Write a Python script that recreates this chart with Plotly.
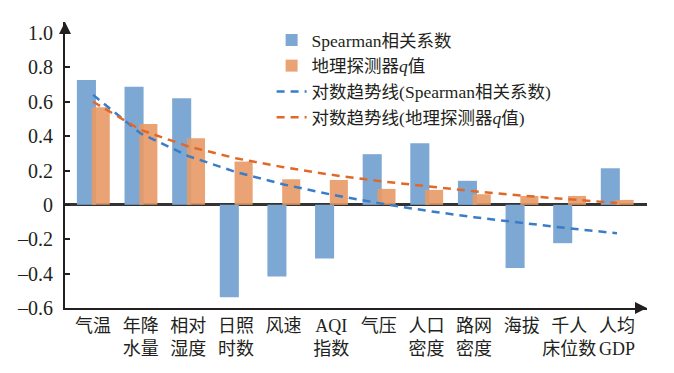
import plotly.graph_objects as go

categories = ["气温", "年降<br>水量", "相对<br>湿度", "日照<br>时数", "风速", "AQI<br>指数",
              "气压", "人口<br>密度", "路网<br>密度", "海拔", "千人<br>床位数", "人均<br>GDP"]
spearman = [0.727, 0.688, 0.620, -0.537, -0.417, -0.312, 0.295, 0.359, 0.140, -0.368, -0.223, 0.213]
q_values = [0.568, 0.471, 0.388, 0.252, 0.149, 0.145, 0.093, 0.087, 0.062, 0.052, 0.052, 0.029]
trend_spearman = [0.640, 0.415, 0.284, 0.191, 0.119, 0.060, 0.010, -0.034, -0.072, -0.106, -0.137, -0.165]
trend_q = [0.600, 0.436, 0.340, 0.271, 0.219, 0.175, 0.139, 0.107, 0.079, 0.054, 0.032, 0.011]
ytick_vals = [1.0, 0.8, 0.6, 0.4, 0.2, 0, -0.2, -0.4, -0.6]
ytick_text = ["1.0", "0.8", "0.6", "0.4", "0.2", "0", "–0.2", "–0.4", "–0.6"]

xpos = list(range(1, len(categories) + 1))
FONT = "Liberation Serif, Times New Roman, Noto Sans CJK SC, serif"

fig = go.Figure()
fig.add_trace(go.Bar(x=xpos, y=spearman, name="Spearman相关系数",
                     marker=dict(color="#7EA8D4", line=dict(width=0)),
                     offset=-0.34, width=0.40))
fig.add_trace(go.Bar(x=xpos, y=q_values, name="地理探测器<i>q</i>值",
                     marker=dict(color="#E89A66", line=dict(width=0)), opacity=0.9,
                     offset=-0.03, width=0.38))
fig.add_trace(go.Scatter(x=xpos, y=trend_spearman, mode="lines",
                         name="对数趋势线(Spearman相关系数)",
                         line=dict(color="#3A7DC6", width=2.5, dash="8px,6px")))
fig.add_trace(go.Scatter(x=xpos, y=trend_q, mode="lines",
                         name="对数趋势线(地理探测器<i>q</i>值)",
                         line=dict(color="#E0692A", width=2.5, dash="8px,6px")))

fig.update_layout(
    width=666, height=365,
    margin=dict(l=57, r=27, t=14, b=65, autoexpand=False),
    paper_bgcolor="white", plot_bgcolor="white",
    barmode="overlay",
    font=dict(family=FONT, size=18, color="#231F20"),
    showlegend=True,
    legend=dict(x=0.355, y=1.0, xanchor="left", yanchor="top",
                bgcolor="rgba(0,0,0,0)", font=dict(size=17.5, family=FONT),
                tracegroupgap=0),
    xaxis=dict(range=[0.41, 12.63], tickmode="array", tickvals=xpos, ticktext=categories,
               showgrid=False, zeroline=False, showline=True, linecolor="#231F20",
               linewidth=2, ticks="", tickfont=dict(size=18), automargin=False),
    yaxis=dict(range=[-0.6, 1.064], tickmode="array", tickvals=ytick_vals, ticktext=ytick_text,
               showgrid=False, zeroline=True, zerolinecolor="#333333", zerolinewidth=2.5,
               showline=True, linecolor="#231F20", linewidth=2,
               ticks="inside", ticklen=5, tickwidth=1.5, tickcolor="#231F20",
               ticklabelstandoff=6, tickfont=dict(size=20), automargin=False),
)

# axis arrowheads
fig.add_annotation(x=0, y=1, xref="paper", yref="paper", ax=0, ay=12, axref="pixel", ayref="pixel",
                   showarrow=True, arrowhead=2, arrowsize=1.2, arrowwidth=2, arrowcolor="#231F20", text="")
fig.add_annotation(x=1.0, y=0, xref="paper", yref="paper", ax=-12, ay=0,
                   showarrow=True, arrowhead=2, arrowsize=1.2, arrowwidth=2, arrowcolor="#231F20", text="")

fig.write_html("out.html")
